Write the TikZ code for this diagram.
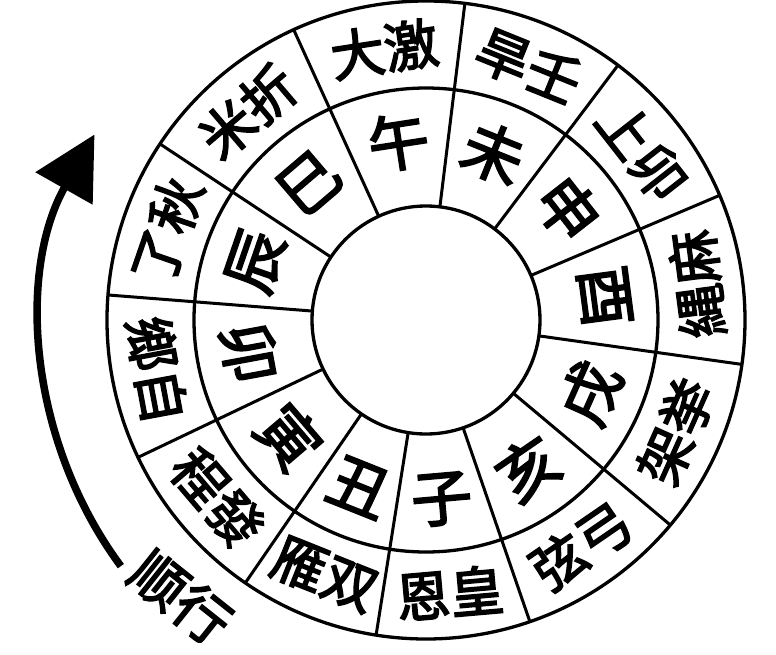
\documentclass[tikz,border=0pt]{standalone}
\usepackage{fontspec}
\newfontfamily\cjk[FakeBold=3]{Noto Sans CJK SC}
\usetikzlibrary{arrows.meta}
\begin{document}
\begin{tikzpicture}[x=1pt,y=1pt,
  ring/.style={line width=3.3pt},
  divider/.style={line width=3pt},
  midlbl/.style={font=\cjk\fontsize{61}{61}\selectfont, inner sep=0pt},
  outlbl/.style={font=\cjk\fontsize{54}{54}\selectfont, inner sep=0pt},
  dirlbl/.style={font=\cjk\fontsize{55}{55}\selectfont, inner sep=0pt},
  turnarrow/.style={line width=7.5pt, -{Triangle[length=62pt,width=64pt]}}]
\useasboundingbox (-426,-334) rectangle (350,320);
\fill[white] (-426,-334) rectangle (350,320);
% circles
\draw[ring] (0,0) circle (319);
\draw[ring] (0,0) circle (232);
\draw[ring] (0,0) circle (114);
% dividers
\foreach \a in {23,53,83,114.5,146.5,175.5,205.5,235.5,261,289,320,352}
  \draw[divider] (\a:114) -- (\a:319);
% middle ring
\foreach \a/\r/\t/\n in {98.75/8.75/午/1, 68/-22/未/2, 38/-52/申/3, 7.5/-82.5/酉/4,
    336/66/戌/5, 304.5/34.5/亥/6, 275/5/子/7, 248.25/-21.75/丑/8,
    220.5/-49.5/寅/9, 190.5/-79.5/卯/10, 161/71/辰/11, 130.5/40.5/巳/12}
  \node[midlbl, rotate=\r] (m\n) at (\a:180) {\t};
% outer ring
\foreach \a/\r/\t/\n in {98.75/8.75/大激/1, 68/-22/旱壬/2, 38/-52/上卯/3, 7.5/97.5/縄麻/4,
    336/66/架挙/5, 304.5/34.5/弦弓/6, 275/5/恩皇/7, 248.25/-21.75/雁双/8,
    220.5/-49.5/程發/9, 190.5/-79.5/鄉自/10, 161/71/了秋/11, 130.5/40.5/米折/12}
  \node[outlbl, rotate=\r] (o\n) at (\a:274) {\t};
% direction arrow
\coordinate (arrowcenter) at (14,-10);
\draw[turnarrow] ([shift={(14,-10)}]216.5:397) arc[start angle=216.5, end angle=150.5, radius=397];
\node[dirlbl, rotate=-38.5] (dir) at (-245,-277) {顺行};
\end{tikzpicture}
\end{document}
